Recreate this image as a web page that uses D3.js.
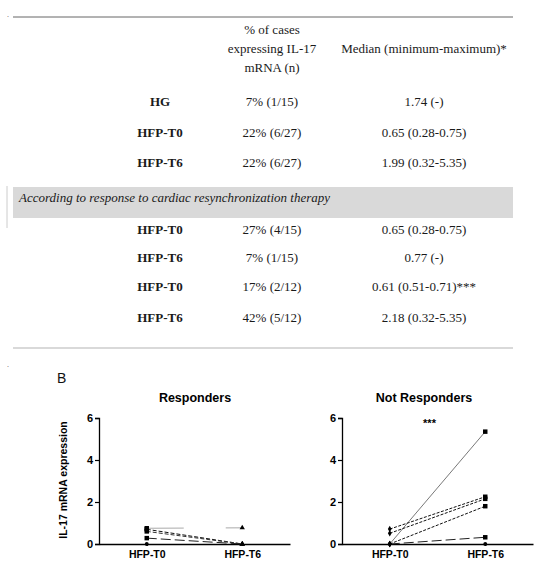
<!DOCTYPE html>
<html><head><meta charset="utf-8">
<script src="https://cdn.jsdelivr.net/npm/d3@7"></script>
<style>body{margin:0;background:#fff}</style>
</head><body>
<svg id="c" width="559" height="566"></svg>
<script>
// ---- table data ----
const headerPct = ["% of cases", "expressing IL-17", "mRNA (n)"];
const headerMedian = "Median (minimum-maximum)*";
const sectionNote = "According to response to cardiac resynchronization therapy";
const groupLabels = ["HG", "HFP-T0", "HFP-T6", "HFP-T0", "HFP-T6", "HFP-T0", "HFP-T6"];
const pctCases = ["7% (1/15)", "22% (6/27)", "22% (6/27)", "27% (4/15)", "7% (1/15)", "17% (2/12)", "42% (5/12)"];
const medians = ["1.74 (-)", "0.65 (0.28-0.75)", "1.99 (0.32-5.35)", "0.65 (0.28-0.75)", "0.77 (-)", "0.61 (0.51-0.71)***", "2.18 (0.32-5.35)"];

// ---- chart data ----
const timepoints = ["HFP-T0", "HFP-T6"];
const yTicks = [0, 2, 4, 6];
const respondersPairs = [[0.75, 0.77], [0.70, 0], [0.60, 0], [0.28, 0], [0, 0]];
const notRespondersPairs = [[0, 5.35], [0.71, 2.25], [0.51, 2.15], [0, 1.80], [0, 0.32], [0, 0]];

const svg = d3.select("#c");
const serif = "'Liberation Serif','Times New Roman',serif";
const sans = "'Liberation Sans',Arial,sans-serif";
const tcol = "#1a1a1a";
const fs = 13;

const colXs = {g: 160, p: 272, m: 424};
const rowY = [101, 132, 162, 229, 257, 286, 317];

svg.append("text").attr("x", 7).attr("y", 17).attr("font-size", 8).attr("fill", "#555").text(".");
svg.append("line").attr("x1", 13).attr("x2", 513).attr("y1", 17).attr("y2", 17).attr("stroke", "#666").attr("stroke-width", 1);

headerPct.forEach((t, i) => {
  svg.append("text").attr("x", colXs.p).attr("y", 34 + i * 19).attr("text-anchor", "middle")
    .attr("font-family", serif).attr("font-size", fs).attr("fill", tcol).text(t);
});
svg.append("text").attr("x", colXs.m).attr("y", 53).attr("text-anchor", "middle")
  .attr("font-family", serif).attr("font-size", fs).attr("fill", tcol).text(headerMedian);

// section band
svg.append("rect").attr("x", 13).attr("y", 187).attr("width", 500).attr("height", 31).attr("fill", "#d9d9d9");
svg.append("line").attr("x1", 7).attr("x2", 7).attr("y1", 186).attr("y2", 228).attr("stroke", "#ccc");
svg.append("text").attr("x", 19).attr("y", 202).attr("font-family", serif).attr("font-style", "italic")
  .attr("font-size", fs).attr("fill", tcol).text(sectionNote);

groupLabels.forEach((g, i) => {
  const y = rowY[i] + 5;
  svg.append("text").attr("x", colXs.g).attr("y", y).attr("text-anchor", "middle")
    .attr("font-family", serif).attr("font-weight", "bold").attr("font-size", fs).attr("fill", tcol).text(g);
  svg.append("text").attr("x", colXs.p).attr("y", y).attr("text-anchor", "middle")
    .attr("font-family", serif).attr("font-size", fs).attr("fill", tcol).text(pctCases[i]);
  svg.append("text").attr("x", colXs.m).attr("y", y).attr("text-anchor", "middle")
    .attr("font-family", serif).attr("font-size", fs).attr("fill", tcol).text(medians[i]);
});
svg.append("line").attr("x1", 13).attr("x2", 513).attr("y1", 348).attr("y2", 348).attr("stroke", "#ccc").attr("stroke-width", 1.5);
svg.append("text").attr("x", 7).attr("y", 367).attr("font-size", 8).attr("fill", "#555").text(".");

// panel B
svg.append("text").attr("x", 57).attr("y", 383).attr("font-family", sans).attr("font-size", 14).attr("fill", "#111").text("B");

const y = d3.scaleLinear().domain([0, 6]).range([544, 418]);

function panel(x0, x1, title, titleX, pairs, styles, markers, stars) {
  const x = d3.scalePoint().domain(timepoints).range([x0, x1]).padding(0.5);
  const g = svg.append("g");
  g.append("text").attr("x", titleX).attr("y", 402).attr("text-anchor", "middle")
    .attr("font-family", sans).attr("font-weight", "bold").attr("font-size", 12.5).text(title);
  if (stars) g.append("text").attr("x", (x("HFP-T0") + x("HFP-T6")) / 2 - 8).attr("y", 427).attr("text-anchor", "middle")
    .attr("font-family", sans).attr("font-weight", "bold").attr("font-size", 11).text(stars);
  const ya = g.append("g").attr("transform", `translate(${x0},0)`)
    .call(d3.axisLeft(y).tickValues(yTicks).tickSize(4).tickPadding(2).tickFormat(d3.format("d")));
  ya.select(".domain").attr("stroke", "#000").attr("stroke-width", 1.3);
  ya.selectAll(".tick line").attr("stroke-width", 1.2);
  ya.selectAll("text").attr("font-family", sans).attr("font-weight", "bold").attr("font-size", 11).attr("fill", "#000");
  const xa = g.append("g").attr("transform", `translate(0,${y(0)})`)
    .call(d3.axisBottom(x).tickSize(2).tickPadding(5).tickSizeOuter(0));
  xa.select(".domain").attr("stroke", "#000").attr("stroke-width", 1.3);
  xa.selectAll("text").attr("font-family", sans).attr("font-weight", "bold").attr("font-size", 10.5).attr("fill", "#000");
  const line = d3.line().x((d, i) => x(timepoints[i])).y(d => y(d));
  pairs.forEach((p, i) => {
    const s = styles[i];
    if (s) g.append("path").attr("d", line(p)).attr("fill", "none").attr("stroke", s.c)
      .attr("stroke-width", s.w).attr("stroke-dasharray", s.d);
  });
  pairs.forEach((p, i) => {
    p.forEach((v, j) => {
      const m = markers[i][j];
      const cx = x(timepoints[j]), cy = y(v);
      const sym = d3.symbol().type(m === "sq" ? d3.symbolSquare : m === "tri" ? d3.symbolTriangle : m === "dia" ? d3.symbolDiamond : d3.symbolCircle)
        .size(m === "sq" ? 20 : 12);
      g.append("path").attr("d", sym()).attr("transform", `translate(${cx},${cy})`).attr("fill", "#000");
    });
  });
}

panel(99, 290, "Responders", 195, respondersPairs,
  [{c: "#aaa", w: 1, d: "37,42"}, {c: "#111", w: 1, d: "4,2"}, {c: "#333", w: 1, d: "4,2"}, {c: "#222", w: 1, d: "10,4"}, null],
  [["sq", "tri"], ["sq", "tri"], ["sq", "tri"], ["sq", "tri"], ["circ", "tri"]], null);

panel(342, 533, "Not Responders", 424, notRespondersPairs,
  [{c: "#555", w: 0.8, d: null}, {c: "#111", w: 1, d: "3,1.5"}, {c: "#111", w: 1, d: "3,1.5"}, {c: "#111", w: 1, d: "3,1.5"}, {c: "#222", w: 1, d: "10,4"}, null],
  [["dia", "sq"], ["dia", "sq"], ["dia", "sq"], ["dia", "sq"], ["dia", "sq"], ["dia", "circ"]], "***");

// y label
svg.append("text").attr("transform", "translate(67,480) rotate(-90)").attr("text-anchor", "middle")
  .attr("font-family", sans).attr("font-weight", "bold").attr("font-size", 10.5).text("IL-17 mRNA expression");
</script>
</body></html>
